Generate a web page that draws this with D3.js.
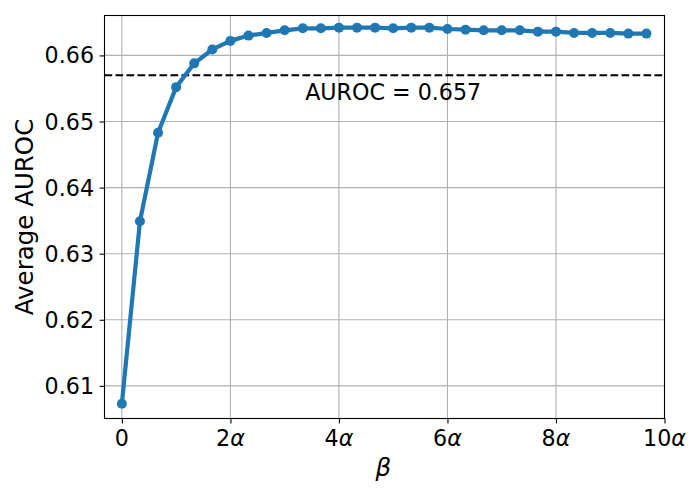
<!DOCTYPE html>
<html>
<head>
<meta charset="utf-8">
<script src="https://cdn.jsdelivr.net/npm/d3@7"></script>
<style>
  body { margin: 0; background: #fff; }
  svg { display: block; font-family: "DejaVu Sans", sans-serif; }
</style>
</head>
<body>
<svg id="chart" width="700" height="500"></svg>
<script>
// beta values in units of alpha (step 1/3)
const betaSteps = d3.range(30);
const auroc = [
  0.6073, 0.6349, 0.6483, 0.6552, 0.6588, 0.6609, 0.6622, 0.6630, 0.6634, 0.6638,
  0.6641, 0.6641, 0.6642, 0.6642, 0.6642, 0.6641, 0.6642, 0.6642, 0.6640, 0.6639,
  0.6638, 0.6638, 0.6638, 0.6636, 0.6636, 0.6634, 0.6634, 0.6634, 0.6633, 0.6633
];
const baseline = 0.657;
const baselineLabel = "AUROC = 0.657";
const xTicks = [0, 2, 4, 6, 8, 10];
const yTicks = [0.61, 0.62, 0.63, 0.64, 0.65, 0.66];
const xLabel = "β";
const yLabel = "Average AUROC";

const data = betaSteps.map((k, i) => ({ x: k / 3, y: auroc[i] }));

const svg = d3.select("#chart");
const pLeft = 104.5, pRight = 664.5, pTop = 15.5, pBottom = 418.5;

const x = d3.scaleLinear().domain([-0.32, 10]).range([pLeft, pRight]);
const y = d3.scaleLinear().domain([0.60506, 0.66604]).range([pBottom, pTop]);

const blue = "#1f77b4";

// grid
const grid = svg.append("g");
grid.selectAll(".gx").data(xTicks).enter().append("line")
  .attr("x1", d => x(d)).attr("x2", d => x(d))
  .attr("y1", pTop).attr("y2", pBottom)
  .attr("stroke", "#b0b0b0").attr("stroke-width", 1.1);
grid.selectAll(".gy").data(yTicks).enter().append("line")
  .attr("y1", d => y(d)).attr("y2", d => y(d))
  .attr("x1", pLeft).attr("x2", pRight)
  .attr("stroke", "#b0b0b0").attr("stroke-width", 1.1);

// baseline
svg.append("line")
  .attr("x1", pLeft).attr("x2", pRight)
  .attr("y1", y(baseline)).attr("y2", y(baseline))
  .attr("stroke", "#000").attr("stroke-width", 2.1)
  .attr("stroke-dasharray", "7.7,3.3");

svg.append("text")
  .attr("x", x(5)).attr("y", y(baseline) + 25)
  .attr("text-anchor", "middle")
  .attr("font-size", 22.2)
  .attr("fill", "#000")
  .text(baselineLabel);

// line + markers
svg.append("path")
  .datum(data)
  .attr("fill", "none")
  .attr("stroke", blue)
  .attr("stroke-width", 4.2)
  .attr("stroke-linejoin", "round")
  .attr("stroke-linecap", "round")
  .attr("d", d3.line().x(d => x(d.x)).y(d => y(d.y)));

svg.selectAll(".pt").data(data).enter().append("circle")
  .attr("cx", d => x(d.x)).attr("cy", d => y(d.y))
  .attr("r", 5).attr("fill", blue);

// axes
const xAxis = d3.axisBottom(x).tickValues(xTicks).tickSize(4.9).tickFormat("");
const yAxis = d3.axisLeft(y).tickValues(yTicks).tickSize(4.9).tickFormat("");
const gx = svg.append("g").attr("transform", `translate(0,${pBottom})`).call(xAxis);
const gy = svg.append("g").attr("transform", `translate(${pLeft},0)`).call(yAxis);
[gx, gy].forEach(g => {
  g.select(".domain").remove();
  g.selectAll(".tick line").attr("stroke", "#000").attr("stroke-width", 1.1);
});

// frame
svg.append("rect")
  .attr("x", pLeft).attr("y", pTop)
  .attr("width", pRight - pLeft).attr("height", pBottom - pTop)
  .attr("fill", "none").attr("stroke", "#000").attr("stroke-width", 1.1);

// x tick labels
const xl = svg.append("g").selectAll("text").data(xTicks).enter().append("text")
  .attr("x", d => x(d)).attr("y", pBottom + 27.5)
  .attr("text-anchor", "middle")
  .attr("font-size", 22.2)
  .attr("fill", "#000");
xl.each(function(d) {
  const t = d3.select(this);
  if (d === 0) { t.text("0"); return; }
  t.append("tspan").text(String(d));
  t.append("tspan").attr("font-style", "italic").text("α");
});

// y tick labels
svg.append("g").selectAll("text").data(yTicks).enter().append("text")
  .attr("x", pLeft - 10.5).attr("y", d => y(d) + 8)
  .attr("text-anchor", "end")
  .attr("font-size", 22.2)
  .attr("fill", "#000")
  .text(d => d.toFixed(2));

// axis labels
svg.append("text")
  .attr("x", x(4.82)).attr("y", 476)
  .attr("text-anchor", "middle")
  .attr("font-size", 24.5)
  .attr("font-style", "italic")
  .attr("fill", "#000")
  .text(xLabel);

svg.append("text")
  .attr("transform", `translate(33,${(pTop + pBottom) / 2}) rotate(-90)`)
  .attr("text-anchor", "middle")
  .attr("font-size", 24.5)
  .attr("fill", "#000")
  .text(yLabel);
</script>
</body>
</html>
